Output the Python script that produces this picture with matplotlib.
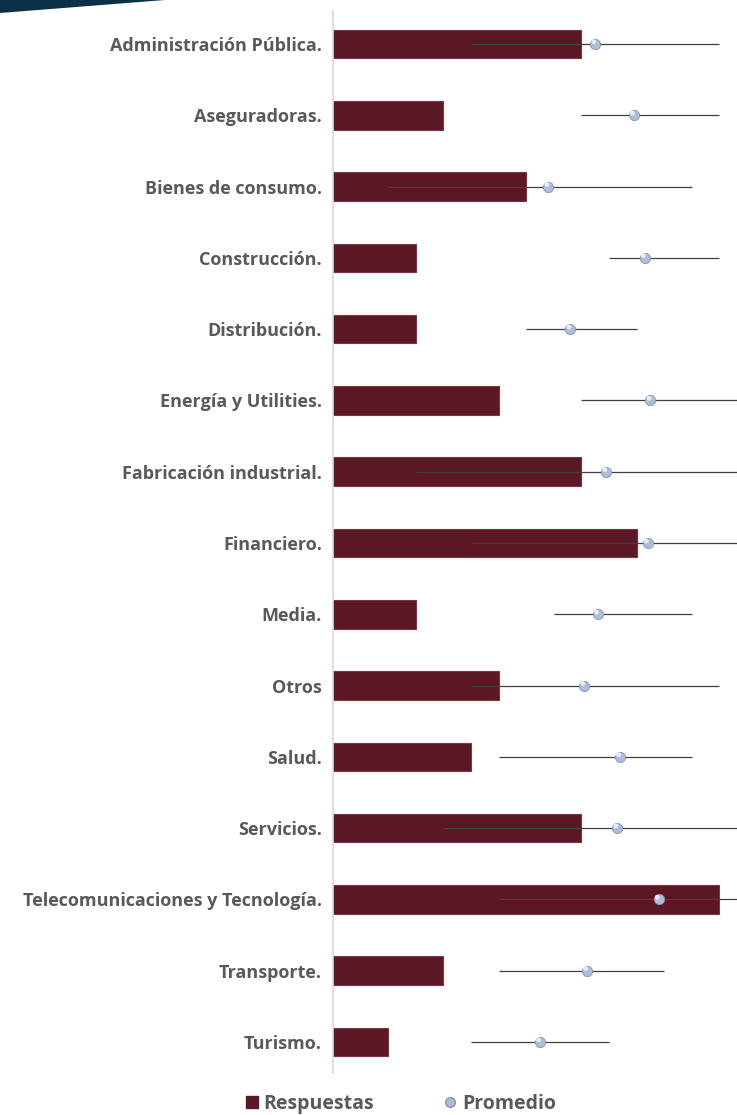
import matplotlib.pyplot as plt
from matplotlib.patches import Polygon
from matplotlib.lines import Line2D
import numpy as np

categorias = ["Administración Pública.", "Aseguradoras.", "Bienes de consumo.", "Construcción.",
              "Distribución.", "Energía y Utilities.", "Fabricación industrial.", "Financiero.",
              "Media.", "Otros", "Salud.", "Servicios.", "Telecomunicaciones y Tecnología.",
              "Transporte.", "Turismo."]
respuestas = [9, 4, 7, 3, 3, 6, 9, 11, 3, 6, 5, 9, 14, 4, 2]
promedio = [9.5, 10.9, 7.8, 11.3, 8.6, 11.5, 9.9, 11.4, 9.6, 9.1, 10.4, 10.3, 11.8, 9.2, 7.5]
minimo = [5, 9, 2, 10, 7, 9, 3, 5, 8, 5, 6, 4, 6, 6, 5]
maximo = [14, 14, 13, 14, 11, 15, 15, 15, 13, 14, 13, 15, 15, 12, 10]

plt.rcParams['font.family'] = ['Open Sans', 'DejaVu Sans']
W, H = 737, 1115
fig = plt.figure(figsize=(W / 100, H / 100), dpi=100)

# decorative banner top-left
fig.patches.append(Polygon([[0, 1], [165 / W, 1], [0, 1 - 13 / H]], closed=True,
                           transform=fig.transFigure, facecolor="#0d3049", edgecolor="none"))

ax = fig.add_axes([333 / W, 1 - 1073 / H, 1 - 333 / W, (1073 - 11) / H])
y = np.arange(len(categorias))
ax.barh(y, respuestas, height=0.4, color="#5c1724", edgecolor="#7a3442", linewidth=0.8, zorder=2)

err_lo = np.array(promedio) - np.array(minimo)
err_hi = np.array(maximo) - np.array(promedio)
ax.errorbar(promedio, y, xerr=[err_lo, err_hi], fmt="none", ecolor="#404040",
            elinewidth=0.9, capsize=0, zorder=3)
ax.scatter(promedio, y, s=55, color="#aebdd6", edgecolors="#8796b3", linewidths=0.6, zorder=4)
ax.scatter(np.array(promedio) - 0.05, y - 0.03, s=12, color="#e6ecf6", edgecolors="none", zorder=5)

ax.set_xlim(0, (737 - 333) / 27.6)
ax.set_ylim(14 + 31 / 71.3, -33 / 71.3)
ax.set_yticks(y)
ax.set_yticklabels(categorias, fontsize=13, fontweight="bold", color="#595959")
ax.tick_params(axis="y", length=0, pad=8)
ax.set_xticks([])
for s in ["top", "right", "bottom"]:
    ax.spines[s].set_visible(False)
ax.spines["left"].set_color("#d9d9d9")
ax.spines["left"].set_linewidth(1.2)

handles = [Line2D([], [], marker="s", linestyle="none", markersize=9, color="#5c1724"),
           Line2D([], [], marker="o", linestyle="none", markersize=7, color="#aebdd6",
                  markeredgecolor="#8796b3")]
fig.legend(handles, ["Respuestas", "Promedio"], loc="center", bbox_to_anchor=(400 / W, 1 - 1104 / H),
           ncol=2, frameon=False, handlelength=0.8, handletextpad=0.2, columnspacing=3.5,
           prop={"weight": "bold", "size": 14}, labelcolor="#595959")

fig.savefig("out.png", dpi=100)
